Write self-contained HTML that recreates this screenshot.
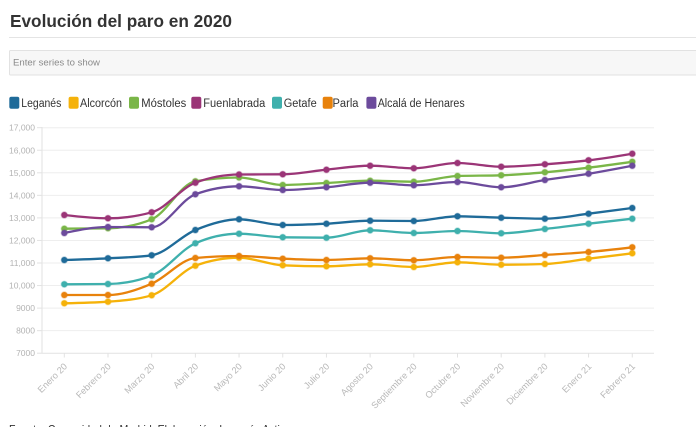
<!DOCTYPE html>
<html><head><meta charset="utf-8">
<style>
html,body{margin:0;padding:0;background:#fff;width:696px;height:427px;overflow:hidden}
svg{display:block;font-family:"Liberation Sans",sans-serif}
</style></head>
<body>
<svg id="c" width="696" height="427" viewBox="0 0 696 427" xmlns="http://www.w3.org/2000/svg">
<text x="10" y="27" font-size="17.5" font-weight="bold" fill="#333" textLength="222" lengthAdjust="spacingAndGlyphs">Evolución del paro en 2020</text>
<line x1="9" y1="37.5" x2="696" y2="37.5" stroke="#e4e4e4" stroke-width="1"/>
<rect x="9.5" y="50.5" width="700" height="24.5" fill="#f7f7f7" stroke="#e2e2e2" stroke-width="1" rx="1"/>
<text x="13" y="65.5" font-size="9.5" fill="#8a8a8a" textLength="87" lengthAdjust="spacingAndGlyphs">Enter series to show</text>
<g id="legend"></g>
<g id="grid"></g>
<g id="series"></g>
<text x="9" y="433.5" font-size="12" fill="#333" textLength="282" lengthAdjust="spacingAndGlyphs">Fuente: Comunidad de Madrid. Elaboración: Leganés Activo</text>
</svg>
<script>
var NS="http://www.w3.org/2000/svg";
function el(p,t,a,txt){var e=document.createElementNS(NS,t);for(var k in a)e.setAttribute(k,a[k]);if(txt!=null)e.textContent=txt;p.appendChild(e);return e;}
var leg=document.getElementById('legend');
var items=[["Leganés","#1f6b99",9.3,21.3,40],["Alcorcón","#f5b20a",68.6,80,42],["Móstoles","#7ab648",129,141.3,45],["Fuenlabrada","#9b3577",191.3,203.3,62],["Getafe","#3fb0ad",272,283.7,33],["Parla","#e8820c",322.7,332.5,26],["Alcalá de Henares","#6c4b9c",366.4,377.7,87]];
items.forEach(function(it){
 el(leg,'rect',{x:it[2],y:96.7,width:10,height:12,rx:2,fill:it[1]});
 el(leg,'text',{x:it[3],y:107,'font-size':11.5,fill:'#333',textLength:it[4],lengthAdjust:'spacingAndGlyphs'},it[0]);
});
var g=document.getElementById('grid');
function yv(v){return 127.7+(17000-v)/1000*22.55;}
for(var v=7000;v<=17000;v+=1000){
 var y=yv(v);
 if(v>7000) el(g,'line',{x1:42,y1:y,x2:654,y2:y,stroke:'#eeeeee','stroke-width':1});
 el(g,'line',{x1:37,y1:y,x2:42,y2:y,stroke:'#e2e2e2','stroke-width':1});
 var lab=v>=10000?(Math.floor(v/1000)+',000'):String(v);
 el(g,'text',{x:35,y:y+3,'font-size':8.5,fill:'#b3b3b3','text-anchor':'end'},lab);
}
el(g,'line',{x1:42,y1:127,x2:42,y2:353.2,stroke:'#e2e2e2','stroke-width':1});
el(g,'line',{x1:42,y1:353.2,x2:654,y2:353.2,stroke:'#e2e2e2','stroke-width':1});
var labels=["Enero 20","Febrero 20","Marzo 20","Abril 20","Mayo 20","Junio 20","Julio 20","Agosto 20","Septiembre 20","Octubre 20","Noviembre 20","Diciembre 20","Enero 21","Febrero 21"];
var xs=[];for(var i=0;i<14;i++)xs.push(64.3+i*43.69);
labels.forEach(function(l,i){
 el(g,'line',{x1:xs[i],y1:353.2,x2:xs[i],y2:357.5,stroke:'#e2e2e2','stroke-width':1});
 el(g,'text',{transform:'translate('+(xs[i]+3.5)+',367) rotate(-45)','font-size':9.2,fill:'#b8b8b8','text-anchor':'end'},l);
});
var data=[
 ["#1f6b99",[260,258.3,255.3,230,219.3,225,223.7,220.7,221,216.3,217.7,218.7,213.7,208]],
 ["#f5b20a",[303.3,301.7,295.3,265.7,257.7,265.3,266.3,264.3,267,262.3,264.7,264,258.7,253.3]],
 ["#7ab648",[228.7,228.3,219.3,181.3,177.5,185,183,180.7,181.7,176,175.3,172.3,167.7,161.8]],
 ["#9b3577",[215,218.3,212.3,182.7,174.5,174.3,169.7,165.7,168.3,163,166.7,164.3,160.3,153.7]],
 ["#3fb0ad",[284.3,284,275.7,243.3,233.7,237.3,237.7,230.3,233,231,233.3,229,223.7,218.7]],
 ["#e8820c",[295,295,283.7,258,256,258.7,260,258.3,260.3,257,257.7,255,252,247.3]],
 ["#6c4b9c",[233,227,227.3,194.3,186.3,190,187.3,182.7,185.3,182,187.3,180,173.7,165.7]]
];
function sgn(x){return x<0?-1:1;}
function slope3(x0,y0,x1,y1,x2,y2){var h0=x1-x0,h1=x2-x1,s0=(y1-y0)/h0,s1=(y2-y1)/h1,p=(s0*h1+s1*h0)/(h0+h1);return (sgn(s0)+sgn(s1))*Math.min(Math.abs(s0),Math.abs(s1),0.5*Math.abs(p))||0;}
function slope2(x0,y0,x1,y1,t){var h=x1-x0;return h?(3*(y1-y0)/h-t)/2:t;}
function mono(x,y){
 var n=x.length,t=[];
 for(var i=1;i<n-1;i++)t[i]=slope3(x[i-1],y[i-1],x[i],y[i],x[i+1],y[i+1]);
 t[0]=slope2(x[0],y[0],x[1],y[1],t[1]);
 t[n-1]=slope2(x[n-2],y[n-2],x[n-1],y[n-1],t[n-2]);
 var d="M"+x[0]+","+y[0];
 for(var i=0;i<n-1;i++){var dx=(x[i+1]-x[i])/3;d+="C"+(x[i]+dx)+","+(y[i]+dx*t[i])+","+(x[i+1]-dx)+","+(y[i+1]-dx*t[i+1])+","+x[i+1]+","+y[i+1];}
 return d;
}
var sg=document.getElementById('series');
data.forEach(function(s){
 el(sg,'path',{d:mono(xs,s[1]),fill:'none',stroke:s[0],'stroke-width':2.3,'stroke-linejoin':'round'});
 s[1].forEach(function(y,i){el(sg,'circle',{cx:xs[i],cy:y,r:3,fill:s[0],stroke:s[0],'stroke-opacity':0.35,'stroke-width':1.4});});
});
</script>
</body></html>
